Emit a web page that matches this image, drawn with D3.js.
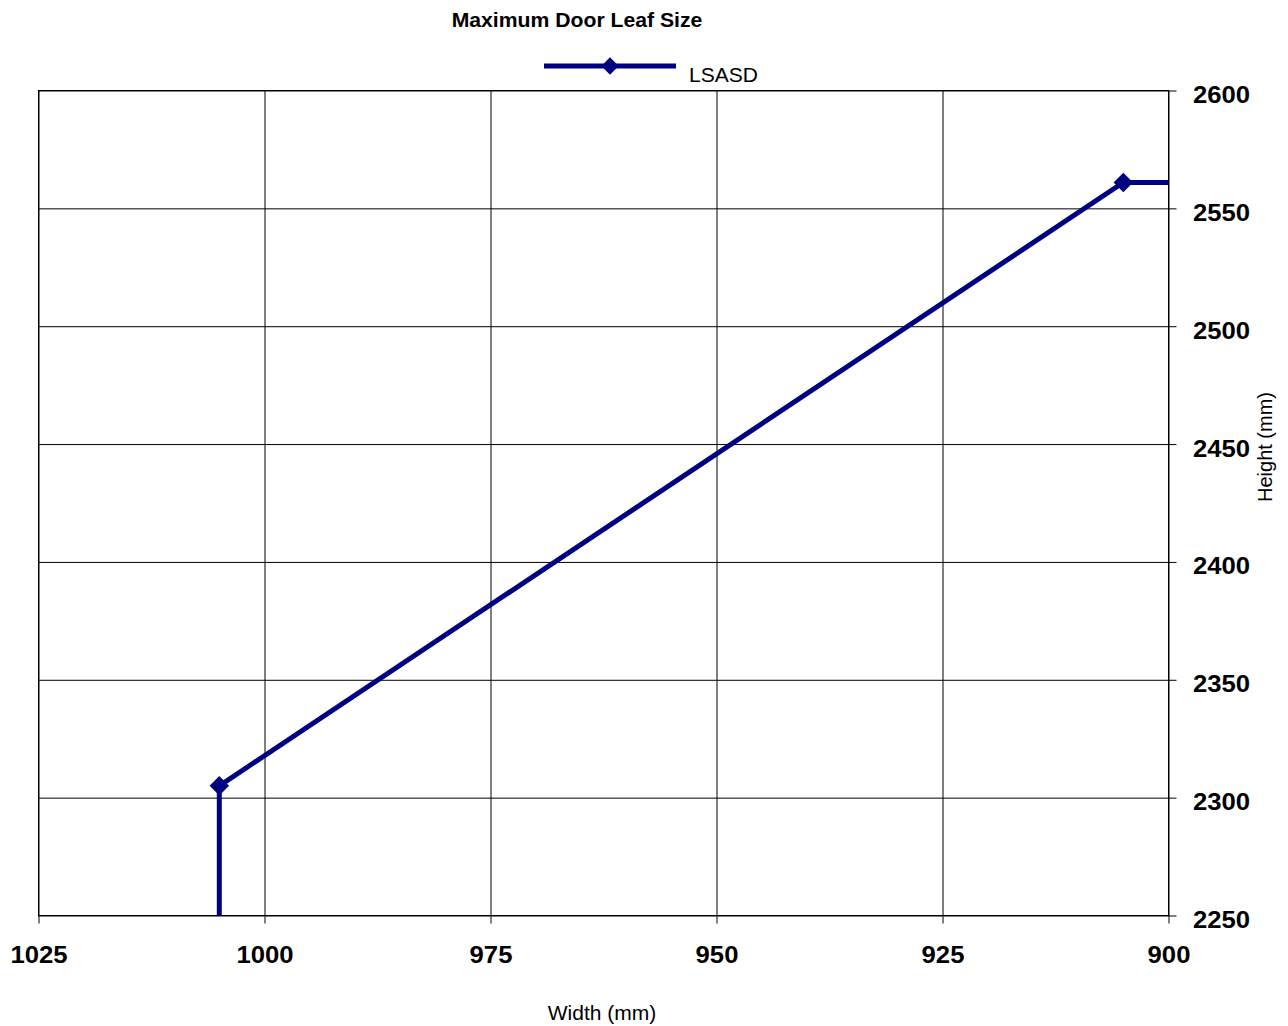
<!DOCTYPE html>
<html><head><meta charset="utf-8">
<script src="https://cdn.jsdelivr.net/npm/d3@7"></script>
<style>
body{margin:0;background:#fff;}
text{font-family:"Liberation Sans",Arial,sans-serif;fill:#000;}
</style></head>
<body><svg id="c" width="1288" height="1026"></svg>
<script>
const widths = [1005, 1005, 905, 800];
const heights = [2000, 2305, 2561, 2561];
const seriesName = "LSASD";
const xTicks = [1025, 1000, 975, 950, 925, 900];
const yTicks = [2250, 2300, 2350, 2400, 2450, 2500, 2550, 2600];
const title = "Maximum Door Leaf Size";
const xTitle = "Width (mm)";
const yTitle = "Height (mm)";

const svg = d3.select("#c");
const m = {l: 38.5, r: 1168.5, t: 90.5, b: 915.5};
const x = d3.scaleLinear().domain([1025, 900]).range([m.l, m.r]);
const y = d3.scaleLinear().domain([2250, 2600]).range([m.b, m.t]);
const H = m.b - m.t, W = m.r - m.l;
const navy = "#000080";
const sx = 1.07;

// gridlines + ticks
const gx = svg.append("g").attr("transform", `translate(0,${m.b})`)
  .call(d3.axisBottom(x).tickValues(xTicks).tickSizeInner(8).tickSizeOuter(0).tickFormat(d3.format("d")));
gx.select(".domain").remove();
gx.selectAll(".tick line").attr("y1", -H).attr("y2", 8).attr("stroke", "#000").attr("stroke-width", 1);
gx.selectAll(".tick text").attr("y", 48).attr("dy", null).style("font-size", "24px").style("font-weight", "bold")
  .attr("transform", `scale(${sx},1)`);

const gy = svg.append("g").attr("transform", `translate(${m.r},0)`)
  .call(d3.axisRight(y).tickValues(yTicks).tickSizeInner(8).tickSizeOuter(0).tickFormat(d3.format("d")));
gy.select(".domain").remove();
gy.selectAll(".tick line").attr("x1", -W).attr("x2", 8).attr("stroke", "#000").attr("stroke-width", 1);
gy.selectAll(".tick text").attr("x", 24.5 / sx).attr("dy", "0.5em").style("font-size", "24px").style("font-weight", "bold")
  .attr("text-anchor", "start").attr("transform", `scale(${sx},1)`);

// plot border
svg.append("rect").attr("x", m.l).attr("y", m.t).attr("width", W).attr("height", H)
  .attr("fill", "none").attr("stroke", "#000").attr("stroke-width", 1);

// clip
svg.append("clipPath").attr("id", "clip").append("rect")
  .attr("x", m.l).attr("y", m.t).attr("width", W).attr("height", H);

const data = widths.map((w, i) => ({w, h: heights[i]}));
const plot = svg.append("g").attr("clip-path", "url(#clip)");
plot.append("path").datum(data)
  .attr("d", d3.line().x(d => x(d.w)).y(d => y(d.h)))
  .attr("fill", "none").attr("stroke", navy).attr("stroke-width", 5).attr("stroke-linejoin", "miter");
plot.selectAll(".mk").data(data).enter().append("path")
  .attr("transform", d => `translate(${x(d.w)},${y(d.h)}) rotate(45)`)
  .attr("d", d3.symbol().type(d3.symbolSquare).size(190)).attr("fill", navy);

// title
svg.append("text").attr("transform", "translate(577,27) scale(1.06,1)").attr("text-anchor", "middle")
  .style("font-size", "20px").style("font-weight", "bold").text(title);

// legend
svg.append("line").attr("x1", 544).attr("x2", 676).attr("y1", 66).attr("y2", 66)
  .attr("stroke", navy).attr("stroke-width", 5);
svg.append("path").attr("transform", "translate(610,66) rotate(45)")
  .attr("d", d3.symbol().type(d3.symbolSquare).size(150)).attr("fill", navy);
svg.append("text").attr("x", 689).attr("y", 82).style("font-size", "21px").text(seriesName);

// axis titles
svg.append("text").attr("x", 602).attr("y", 1020).attr("text-anchor", "middle")
  .style("font-size", "21px").text(xTitle);
svg.append("text").attr("transform", "translate(1272,447) rotate(-90)").attr("text-anchor", "middle")
  .style("font-size", "20px").text(yTitle);
</script></body></html>
